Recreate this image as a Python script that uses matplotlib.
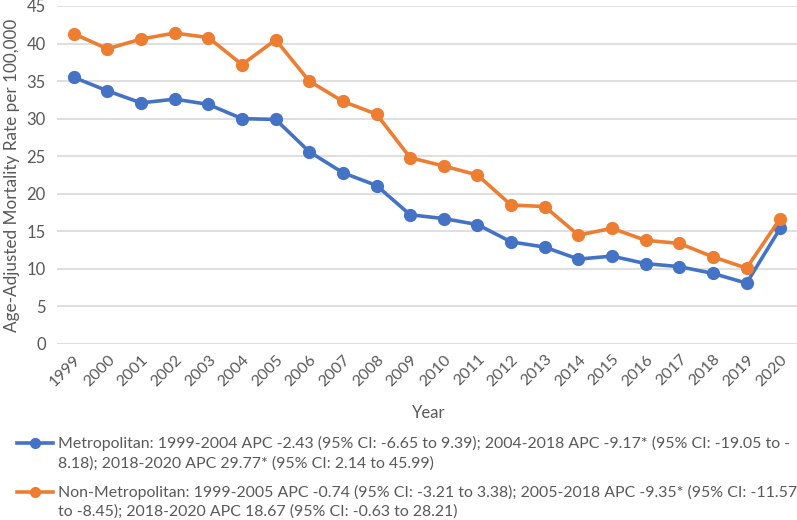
import matplotlib
matplotlib.use("Agg")
import matplotlib.pyplot as plt
from matplotlib.lines import Line2D

years = [str(y) for y in range(1999, 2021)]
metro = [35.5, 33.7, 32.1, 32.6, 31.9, 30.0, 29.9, 25.6, 22.8, 21.1, 17.2, 16.7,
         15.9, 13.6, 12.9, 11.3, 11.7, 10.7, 10.3, 9.4, 8.1, 15.4]
nonmetro = [41.3, 39.3, 40.6, 41.4, 40.8, 37.2, 40.5, 35.0, 32.3, 30.6, 24.8, 23.7,
            22.5, 18.5, 18.3, 14.5, 15.4, 13.8, 13.4, 11.6, 10.1, 16.7]
metro_label = ["Metropolitan: 1999-2004 APC -2.43 (95% CI: -6.65 to 9.39); 2004-2018 APC -9.17* (95% CI: -19.05 to -",
               "8.18); 2018-2020 APC 29.77* (95% CI: 2.14 to 45.99)"]
nonmetro_label = ["Non-Metropolitan: 1999-2005 APC -0.74 (95% CI: -3.21 to 3.38); 2005-2018 APC -9.35* (95% CI: -11.57",
                  "to -8.45); 2018-2020 APC 18.67 (95% CI: -0.63 to 28.21)"]
yticks = [0, 5, 10, 15, 20, 25, 30, 35, 40, 45]

BLUE = "#4472C4"
ORANGE = "#ED7D31"
TXT = "#595959"
GRID = "#D9D9D9"

plt.rcParams['font.family'] = ['Lato', 'DejaVu Sans']

W, H = 797, 520
fig = plt.figure(figsize=(W / 100, H / 100), dpi=100)
ax = fig.add_axes([57 / W, (H - 344) / H, 740 / W, 338 / H])

x = list(range(len(years)))
ax.plot(x, metro, color=BLUE, lw=2.6, marker='o', ms=8.5, zorder=3)
ax.plot(x, nonmetro, color=ORANGE, lw=2.6, marker='o', ms=8.5, zorder=3)

ax.set_xlim(-0.5, len(years) - 0.5)
ax.set_ylim(0, 45)
ax.set_yticks(yticks)
ax.set_yticklabels([str(v) for v in yticks], fontsize=12, color=TXT)
ax.set_xticks(x)
ax.set_xticklabels(years, rotation=45, ha='right', rotation_mode='anchor',
                   fontsize=11.5, color=TXT)
ax.tick_params(axis='both', length=0)
ax.tick_params(axis='y', pad=8)
ax.tick_params(axis='x', pad=6)
for s in ax.spines.values():
    s.set_visible(False)
ax.grid(axis='y', color=GRID, lw=1.2)
ax.set_axisbelow(True)

ax.set_ylabel("Age-Adjusted Mortality Rate per 100,000", fontsize=12.3, color=TXT, labelpad=5)
fig.text(429 / W, 1 - 413 / H, "Year", fontsize=12, color=TXT, ha='center', va='center')

def legend_entry(y1, y2, color, lines):
    yy = 1 - y1 / H
    fig.add_artist(Line2D([17 / W, 53 / W], [yy, yy], color=color, lw=2.6,
                          transform=fig.transFigure))
    fig.add_artist(Line2D([35 / W], [yy], color=color, marker='o', ms=7,
                          transform=fig.transFigure))
    fig.text(58 / W, yy, lines[0], fontsize=11.4, color=TXT, ha='left', va='center')
    fig.text(58 / W, 1 - y2 / H, lines[1], fontsize=11.4, color=TXT, ha='left', va='center')

legend_entry(443, 464, BLUE, metro_label)
legend_entry(492, 512, ORANGE, nonmetro_label)

fig.savefig("out.png", dpi=100)
